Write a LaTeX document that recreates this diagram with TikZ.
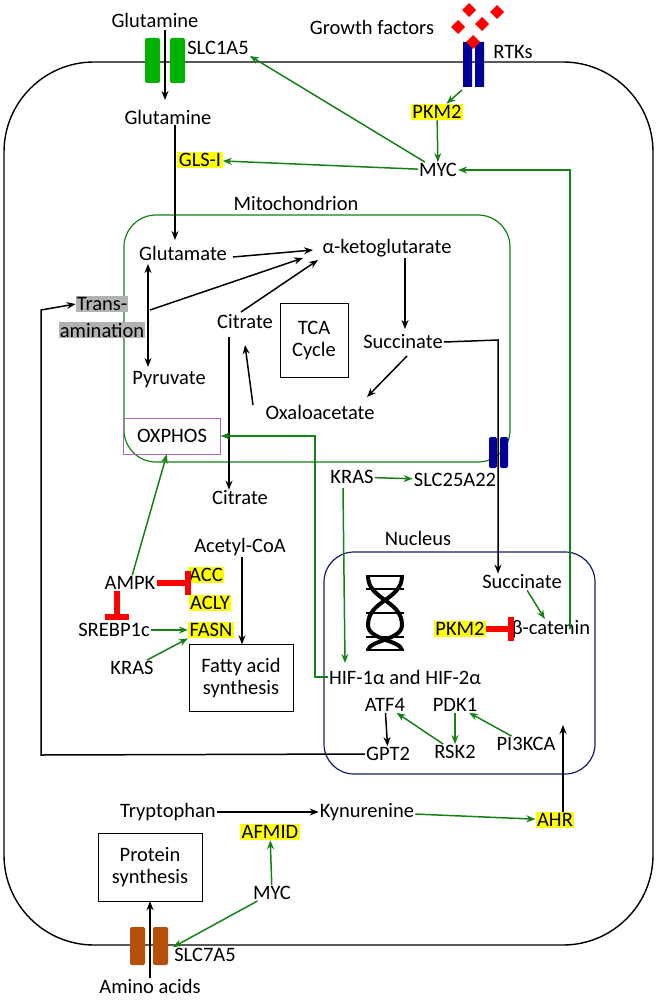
\documentclass[tikz,border=0pt]{standalone}
\usepackage{fontspec}
\setmainfont{Carlito}
\usetikzlibrary{arrows.meta}
\definecolor{pgreen}{RGB}{20,130,20}
\definecolor{hyel}{RGB}{255,255,0}
\definecolor{nblue}{RGB}{20,30,100}
\definecolor{chbrown}{RGB}{180,80,10}
\begin{document}
\begin{tikzpicture}[x=1pt,y=-1pt,font=\fontsize{20.5}{22}\selectfont,
  lbl/.style={inner sep=1pt},
  hl/.style={fill=hyel,inner sep=1.5pt},
  act/.style={-{Stealth[length=9pt,width=7pt]},line width=1.5pt},
  gact/.style={act,pgreen},
  inh/.style={-{Bar[width=24pt,line width=6pt]},red,line width=6pt,shorten >=-3pt},
  box/.style={draw,inner sep=5pt,align=center}]
\useasboundingbox (0,0) rectangle (657,1000);
% compartments
\draw[line width=1.4pt,rounded corners=90pt] (4,62) rectangle (653,945);
\draw[pgreen,line width=1.2pt,rounded corners=32pt] (124,215) rectangle (510,462);
\draw[nblue,line width=1.2pt,rounded corners=30pt] (324,552) rectangle (595,774);
\node[lbl] at (296,203) {Mitochondrion};
\node[lbl] at (418,538) {Nucleus};
% transporters
\fill[green!70!black,rounded corners=2pt] (145,38) rectangle (160,83) (170,38) rectangle (185,83);
\fill[blue!60!black] (463,42) rectangle (472,87) (475,42) rectangle (484,87);
\fill[blue!60!black,rounded corners=2pt] (489,437) rectangle (497,468) (500,437) rectangle (508,468);
\fill[chbrown,rounded corners=2pt] (130,927) rectangle (145,965) (153,927) rectangle (168,965);
\foreach \gx/\gy in {469/10,497/12,458/27,482/24,473/42}
  \fill[red] (\gx,\gy) +(0,-7) -- +(7,0) -- +(0,7) -- +(-7,0) -- cycle;
% nodes
\node[lbl] (glnout) at (155,20) {Glutamine};
\node[lbl] (slc1a5) at (218,48) {SLC1A5};
\node[lbl] (gf) at (372,27) {Growth factors};
\node[lbl] (rtk) at (513,52) {RTKs};
\coordinate (rtkb) at (462,90);
\node[lbl] (gln) at (168,117) {Glutamine};
\node[hl] (pkm2a) at (437,112) {PKM2};
\node[lbl] (myca) at (438,170) {MYC};
\node[hl] (gls) at (200,160) {GLS-I};
\node[lbl] (glu) at (183,253) {Glutamate};
\node[lbl] (akg) at (387,248) {α-ketoglutarate};
\node[fill=gray!60,inner sep=1pt] (tr1) at (102,304) {Trans-};
\node[fill=gray!60,inner sep=1pt] (tr2) at (102,330) {amination};
\node[lbl] (pyr) at (169,380) {Pyruvate};
\node[lbl] (cit1) at (245,322) {Citrate};
\node[box,minimum width=68pt,minimum height=74pt] (tca) at (314,340) {TCA\\Cycle};
\node[lbl] (suc1) at (403,342) {Succinate};
\node[lbl] (oaa) at (320,412) {Oxaloacetate};
\node[draw=violet!60,inner sep=6pt,minimum width=97pt,minimum height=36pt] (oxphos) at (172,436) {OXPHOS};
\node[lbl] (kras1) at (352,477) {KRAS};
\node[lbl] (slc25) at (455,480) {SLC25A22};
\node[lbl] (cit2) at (240,498) {Citrate};
\node[lbl] (acoa) at (240,547) {Acetyl-CoA};
\node[hl] (acc) at (206,575) {ACC};
\node[hl] (acly) at (210,603) {ACLY};
\node[hl] (fasn) at (211,630) {FASN};
\node[lbl] (ampk) at (130,583) {AMPK};
\node[lbl] (srebp) at (114,630) {SREBP1c};
\node[lbl] (kras2) at (132,668) {KRAS};
\node[box,minimum width=104pt,minimum height=67pt] (fas) at (241,678) {Fatty acid\\synthesis};
\node[lbl] (suc2) at (522,582) {Succinate};
\node[hl] (pkm2b) at (460,629) {PKM2};
\node[lbl] (bcat) at (551,629) {β-catenin};
\node[lbl] (hif) at (405,677) {HIF-1α and HIF-2α};
\node[lbl] (atf4) at (385,705) {ATF4};
\node[lbl] (pdk1) at (455,705) {PDK1};
\node[lbl] (gpt2) at (388,754) {GPT2};
\node[lbl] (rsk2) at (455,752) {RSK2};
\node[lbl] (pi3k) at (526,744) {PI3KCA};
\node[lbl] (trp) at (168,812) {Tryptophan};
\node[lbl] (kyn) at (367,812) {Kynurenine};
\node[hl] (ahr) at (555,820) {AHR};
\node[hl] (afmid) at (270,832) {AFMID};
\node[box,minimum width=104pt,minimum height=68pt] (prot) at (150,867) {Protein\\synthesis};
\node[lbl] (mycb) at (272,893) {MYC};
\node[lbl] (slc7a5) at (205,955) {SLC7A5};
\node[lbl] (aa) at (150,986) {Amino acids};
% DNA
\begin{scope}[line width=4pt]
  \draw (368,576) .. controls (368,600) and (402,600) .. (402,625) .. controls (402,640) and (370,640) .. (368,650);
  \draw (402,576) .. controls (402,600) and (368,600) .. (368,625) .. controls (368,640) and (400,640) .. (402,650);
  \foreach \dy in {576,589,613,637,650} \draw[line width=2.5pt] (366,\dy) -- (404,\dy);
\end{scope}
% black reactions
\draw[act] (165,30) -- (165,100);
\draw[act] (gln.south -| 175,0) -- (175,240);
\draw[act] (233,257) -- (313,250);
\draw[act] (150,310) -- (303,258);
\draw[act] (241,312) -- (318,260);
\draw[{Stealth[length=9pt,width=7pt]}-{Stealth[length=9pt,width=7pt]},line width=1.5pt] (148,264) -- (148,367);
\draw[act] (akg.south -| 405,0) -- (405,329);
\draw[act] (407,356) -- (367,397);
\draw[act] (253,405) -- (245,345);
\draw[act] (229,337) -- (cit2.north -| 229,0);
\draw[act] (acoa.south -| 242,0) -- (fas.north -| 242,0);
\draw[act] (suc1.east) -- (498,340) -- (suc2.north -| 498,0);
\draw[act] (gpt2.west) -- (41,755) -- (41,310) -- (tr1.west);
\draw[act] (atf4) -- (gpt2);
\draw[act] (trp) -- (kyn);
\draw[act] (ahr.north -| 563,0) -- (563,725);
\draw[act] (aa) -- (prot);
% green regulation
\draw[gact] (rtkb) -- (pkm2a);
\draw[gact] (pkm2a) -- (myca);
\draw[gact] (myca) -- (slc1a5.south east);
\draw[gact] (myca) -- (gls);
\draw[gact] (bcat.east -| 570,0) -- (570,170) -- (myca.east);
\draw[gact] (hif.west) -- (315,677) -- (315,436) -- (oxphos.east);
\draw[gact] (kras1) -- (slc25);
\draw[gact] (343,488) -- (345,663);
\draw[gact] (ampk) -- (oxphos);
\draw[gact] (srebp) -- (fasn);
\draw[gact] (kras2) -- (fasn.south west);
\draw[gact] (suc2) -- (bcat);
\draw[gact] (rsk2) -- (atf4);
\draw[gact] (pdk1) -- (rsk2);
\draw[gact] (pi3k) -- (pdk1);
\draw[gact] (kyn) -- (ahr);
\draw[gact] (mycb) -- (afmid);
\draw[gact] (mycb) -- (slc7a5.north west);
% inhibition
\draw[inh] (ampk) -- (acc.west |- ampk);
\draw[inh] (ampk.south -| 117,0) -- (117,617);
\draw[inh] (pkm2b) -- (bcat);
\end{tikzpicture}
\end{document}
